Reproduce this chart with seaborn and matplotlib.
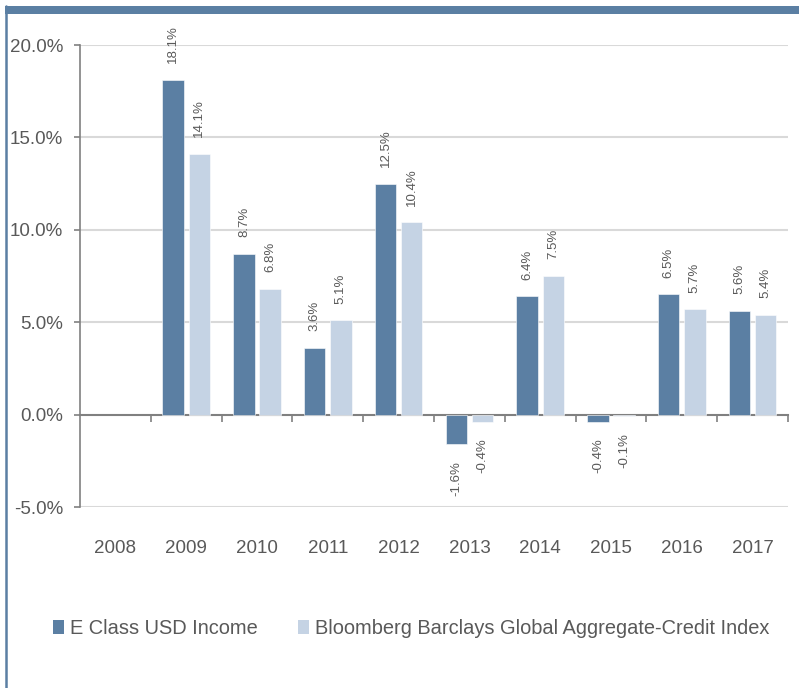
import matplotlib
matplotlib.use("Agg")
import matplotlib.pyplot as plt
import seaborn as sns
import pandas as pd
from matplotlib.lines import Line2D
from matplotlib.patches import Patch, Rectangle

years = ["2008", "2009", "2010", "2011", "2012", "2013", "2014", "2015", "2016", "2017"]
fund_years = ["2009", "2010", "2011", "2012", "2013", "2014", "2015", "2016", "2017"]
fund = [18.1, 8.7, 3.6, 12.5, -1.6, 6.4, -0.4, 6.5, 5.6]
index_vals = [14.1, 6.8, 5.1, 10.4, -0.4, 7.5, -0.1, 5.7, 5.4]
series_names = ["E Class USD Income", "Bloomberg Barclays Global Aggregate-Credit Index"]
yticks = [-5, 0, 5, 10, 15, 20]

sns.set_theme(style="white")
plt.rcParams["font.family"] = ["Liberation Sans", "DejaVu Sans"]

TXT = "#595959"
DARK = "#5B7FA3"
LIGHT = "#C5D3E4"
BLUE = "#5B7FA3"

df = pd.DataFrame({
    "year": fund_years * 2,
    "value": fund + index_vals,
    "series": [series_names[0]] * len(fund_years) + [series_names[1]] * len(fund_years),
})

fig = plt.figure(figsize=(7.99, 6.88), dpi=100)
ax = fig.add_axes([80 / 799, (688 - 507) / 688, (788 - 80) / 799, (507 - 45) / 688])

sns.barplot(data=df, x="year", y="value", hue="series", order=years,
            hue_order=series_names, palette=[DARK, LIGHT], saturation=1,
            width=0.74, gap=0.19, edgecolor="white", linewidth=0.4,
            legend=False, ax=ax, errorbar=None)

ax.set_xlim(-0.5, len(years) - 0.5)
ax.set_ylim(-5, 20)
ax.set_yticks(yticks)
ax.set_yticklabels([f"{v:.1f}%" for v in yticks])
ax.set_xlabel("")
ax.set_ylabel("")

for v in yticks:
    if v != 0:
        ax.axhline(v, color="#D9D9D9", lw=1.5, zorder=0)

for s in ["top", "right", "bottom"]:
    ax.spines[s].set_visible(False)
ax.spines["left"].set_color("#808080")
ax.spines["left"].set_linewidth(1.2)

ax.tick_params(axis="y", which="major", left=True, length=4, width=1.2, color="#808080",
               labelsize=13.5, labelcolor=TXT, pad=8)
ax.tick_params(axis="x", which="major", bottom=False, length=0, labelsize=13.5,
               labelcolor=TXT, pad=24)

# zero axis line with category boundary ticks
sec = ax.secondary_xaxis(0.2)
sec.set_xticks([i + 0.5 for i in range(len(years))])
sec.set_xticklabels([])
sec.tick_params(axis="x", direction="out", length=5, width=1.2, color="#808080")
sec.spines["bottom"].set_color("#808080")
sec.spines["bottom"].set_linewidth(1.5)

for cont in ax.containers:
    ax.bar_label(cont, labels=[f"{b.get_height():.1f}%" if b.get_height() == b.get_height() else "" for b in cont],
                 rotation=90, padding=12, fontsize=9.5, color=TXT)

handles = [Patch(facecolor=DARK, edgecolor="none"), Patch(facecolor=LIGHT, edgecolor="none")]
fig.legend(handles, series_names, loc="center", bbox_to_anchor=(0.515, 1 - 628 / 688),
           ncol=2, frameon=False, fontsize=14.4, labelcolor=TXT, handlelength=0.55,
           handleheight=0.7, handletextpad=0.3, columnspacing=2.0)

# decorative border
fig.patches.append(Rectangle((5 / 799, 1 - 14 / 688), 794 / 799, 8 / 688,
                             transform=fig.transFigure, facecolor=BLUE, edgecolor="none"))
fig.lines.append(Line2D([6 / 799, 6 / 799], [0, 1 - 6 / 688], transform=fig.transFigure,
                        color=BLUE, lw=1.8))

fig.savefig("out.png", dpi=100)
